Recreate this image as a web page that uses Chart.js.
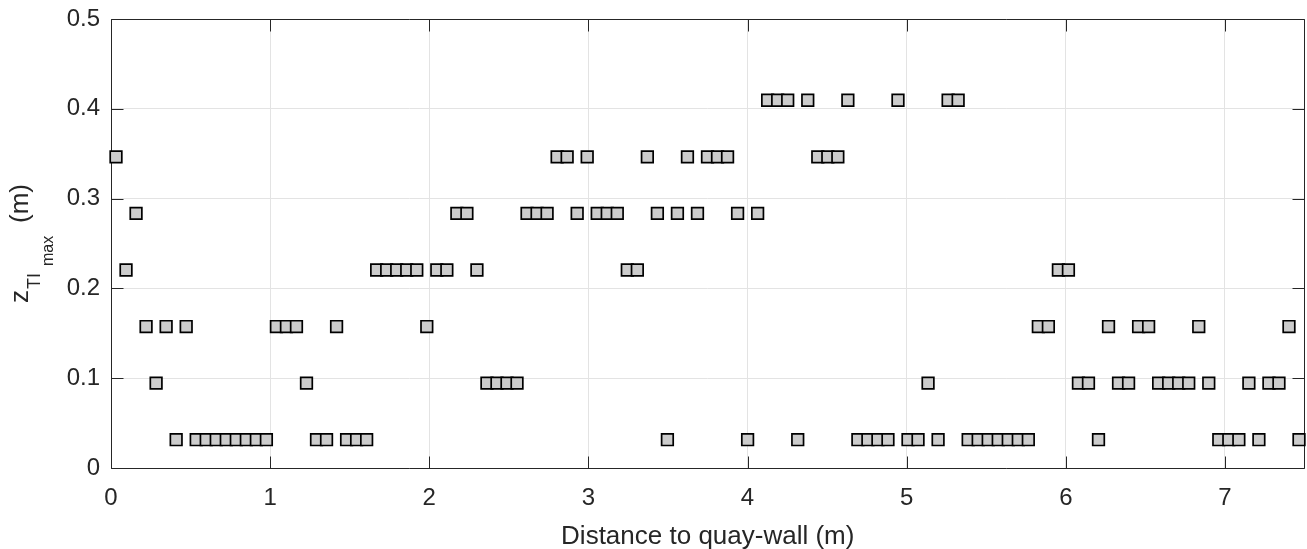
<!DOCTYPE html>
<html>
<head>
<meta charset="utf-8">
<script src="https://cdn.jsdelivr.net/npm/chart.js@4.4.1/dist/chart.umd.min.js"></script>
<style>
  html, body { margin: 0; padding: 0; background: #ffffff; }
  #wrap { width: 1307px; height: 549px; position: relative; }
</style>
</head>
<body>
<div id="wrap"><canvas id="c" width="1307" height="549"></canvas></div>
<script>
// ---- data ----
const distance = [
  0.0315, 0.0945, 0.1575, 0.2205, 0.2835, 0.3465, 0.4095, 0.4725, 0.5355, 0.5985,
  0.6615, 0.7245, 0.7875, 0.8505, 0.9135, 0.9765, 1.0395, 1.1025, 1.1655, 1.2285,
  1.2915, 1.3545, 1.4175, 1.4805, 1.5435, 1.6065, 1.6695, 1.7325, 1.7955, 1.8585,
  1.9215, 1.9845, 2.0475, 2.1105, 2.1735, 2.2365, 2.2995, 2.3625, 2.4255, 2.4885,
  2.5515, 2.6145, 2.6775, 2.7405, 2.8035, 2.8665, 2.9295, 2.9925, 3.0555, 3.1185,
  3.1815, 3.2445, 3.3075, 3.3705, 3.4335, 3.4965, 3.5595, 3.6225, 3.6855, 3.7485,
  3.8115, 3.8745, 3.9375, 4.0005, 4.0635, 4.1265, 4.1895, 4.2525, 4.3155, 4.3785,
  4.4415, 4.5045, 4.5675, 4.6305, 4.6935, 4.7565, 4.8195, 4.8825, 4.9455, 5.0085,
  5.0715, 5.1345, 5.1975, 5.2605, 5.3235, 5.3865, 5.4495, 5.5125, 5.5755, 5.6385,
  5.7015, 5.7645, 5.8275, 5.8905, 5.9535, 6.0165, 6.0795, 6.1425, 6.2055, 6.2685,
  6.3315, 6.3945, 6.4575, 6.5205, 6.5835, 6.6465, 6.7095, 6.7725, 6.8355, 6.8985,
  6.9615, 7.0245, 7.0875, 7.1505, 7.2135, 7.2765, 7.3395, 7.4025, 7.4655
];
const zTImax = [
  0.3465, 0.2205, 0.2835, 0.1575, 0.0945, 0.1575, 0.0315, 0.1575, 0.0315, 0.0315,
  0.0315, 0.0315, 0.0315, 0.0315, 0.0315, 0.0315, 0.1575, 0.1575, 0.1575, 0.0945,
  0.0315, 0.0315, 0.1575, 0.0315, 0.0315, 0.0315, 0.2205, 0.2205, 0.2205, 0.2205,
  0.2205, 0.1575, 0.2205, 0.2205, 0.2835, 0.2835, 0.2205, 0.0945, 0.0945, 0.0945,
  0.0945, 0.2835, 0.2835, 0.2835, 0.3465, 0.3465, 0.2835, 0.3465, 0.2835, 0.2835,
  0.2835, 0.2205, 0.2205, 0.3465, 0.2835, 0.0315, 0.2835, 0.3465, 0.2835, 0.3465,
  0.3465, 0.3465, 0.2835, 0.0315, 0.2835, 0.4095, 0.4095, 0.4095, 0.0315, 0.4095,
  0.3465, 0.3465, 0.3465, 0.4095, 0.0315, 0.0315, 0.0315, 0.0315, 0.4095, 0.0315,
  0.0315, 0.0945, 0.0315, 0.4095, 0.4095, 0.0315, 0.0315, 0.0315, 0.0315, 0.0315,
  0.0315, 0.0315, 0.1575, 0.1575, 0.2205, 0.2205, 0.0945, 0.0945, 0.0315, 0.1575,
  0.0945, 0.0945, 0.1575, 0.1575, 0.0945, 0.0945, 0.0945, 0.0945, 0.1575, 0.0945,
  0.0315, 0.0315, 0.0315, 0.0945, 0.0315, 0.0945, 0.0945, 0.1575, 0.0315
];
const xTickValues = [0, 1, 2, 3, 4, 5, 6, 7];
const xTickLabels = ['0', '1', '2', '3', '4', '5', '6', '7'];
const yTickValues = [0, 0.1, 0.2, 0.3, 0.4, 0.5];
const yTickLabels = ['0', '0.1', '0.2', '0.3', '0.4', '0.5'];
const xAxisTitle = 'Distance to quay-wall (m)';
const yLabelParts = ['z', 'TI', 'max', '(m)'];

// ---- styling ----
const AXIS = '#262626';
const GRID = '#e3e3e3';
const FONT = '"Liberation Sans", Arial, Helvetica, sans-serif';

const pointsData = distance.map((d, i) => ({ x: d, y: zTImax[i] }));

const boxPlugin = {
  id: 'matlabBox',
  beforeDatasetsDraw(chart) {
    const { ctx, chartArea: a, scales } = chart;
    const L = Math.round(a.left) + 0.5, R = Math.round(a.right) - 0.5;
    const T = Math.round(a.top) + 0.5, B = Math.round(a.bottom) + 0.5;
    ctx.save();
    ctx.strokeStyle = AXIS;
    ctx.lineWidth = 1;
    ctx.beginPath();
    ctx.rect(L, T, R - L, B - T);
    const tl = 12;
    xTickValues.forEach(v => {
      const px = Math.round(scales.x.getPixelForValue(v)) + 0.5;
      ctx.moveTo(px, B); ctx.lineTo(px, B - tl);
      ctx.moveTo(px, T); ctx.lineTo(px, T + tl);
    });
    yTickValues.forEach(v => {
      const py = Math.round(scales.y.getPixelForValue(v)) + 0.5;
      ctx.moveTo(L, py); ctx.lineTo(L + tl, py);
      ctx.moveTo(R, py); ctx.lineTo(R - tl, py);
    });
    ctx.stroke();
    ctx.restore();
  },
  afterDraw(chart) {
    const ctx = chart.ctx;
    ctx.save();
    ctx.fillStyle = AXIS;
    ctx.textAlign = 'left';
    ctx.textBaseline = 'alphabetic';
    const parts = [
      { t: yLabelParts[0], size: 26, bx: 28, sy: 303 },
      { t: yLabelParts[1], size: 18, bx: 40, sy: 289 },
      { t: yLabelParts[2], size: 16, bx: 53, sy: 266 },
      { t: yLabelParts[3], size: 26, bx: 28, sy: 223 }
    ];
    parts.forEach(p => {
      ctx.save();
      ctx.font = p.size + 'px ' + FONT;
      ctx.translate(p.bx, p.sy);
      ctx.rotate(-Math.PI / 2);
      ctx.fillText(p.t, 0, 0);
      ctx.restore();
    });
    ctx.restore();
  }
};

new Chart(document.getElementById('c'), {
  type: 'scatter',
  data: {
    datasets: [{
      data: pointsData,
      pointStyle: 'rect',
      pointRadius: 8.2,
      pointHoverRadius: 8.2,
      pointBorderWidth: 1.7,
      pointBackgroundColor: '#cccccc',
      pointBorderColor: '#000000',
      clip: false
    }]
  },
  options: {
    responsive: false,
    animation: false,
    devicePixelRatio: 1,
    layout: { autoPadding: false, padding: { top: 19, right: 2.5, left: 0, bottom: 0 } },
    plugins: { legend: { display: false }, tooltip: { enabled: false } },
    scales: {
      x: {
        type: 'linear',
        min: 0, max: 7.5,
        afterFit(s) { s.height = 81; s.paddingLeft = 0; s.paddingRight = 0; },
        afterBuildTicks(s) { s.ticks = xTickValues.map(v => ({ value: v })); },
        ticks: {
          callback: (v) => xTickLabels[xTickValues.indexOf(v)],
          color: AXIS,
          font: { family: FONT, size: 24 },
          padding: 16,
          maxRotation: 0,
          autoSkip: false
        },
        grid: { color: GRID, lineWidth: 1, drawTicks: false },
        border: { display: false },
        title: {
          display: true,
          text: xAxisTitle,
          color: AXIS,
          font: { family: FONT, size: 26 },
          padding: { top: 0, bottom: -3 }
        }
      },
      y: {
        type: 'linear',
        min: 0, max: 0.5,
        afterFit(s) { s.width = 111; s.paddingTop = 0; s.paddingBottom = 0; },
        afterBuildTicks(s) { s.ticks = yTickValues.map(v => ({ value: v })); },
        ticks: {
          callback: (v) => yTickLabels[yTickValues.indexOf(v)],
          color: AXIS,
          font: { family: FONT, size: 24 },
          padding: 11,
          autoSkip: false
        },
        grid: { color: GRID, lineWidth: 1, drawTicks: false },
        border: { display: false }
      }
    }
  },
  plugins: [boxPlugin]
});
</script>
</body>
</html>
